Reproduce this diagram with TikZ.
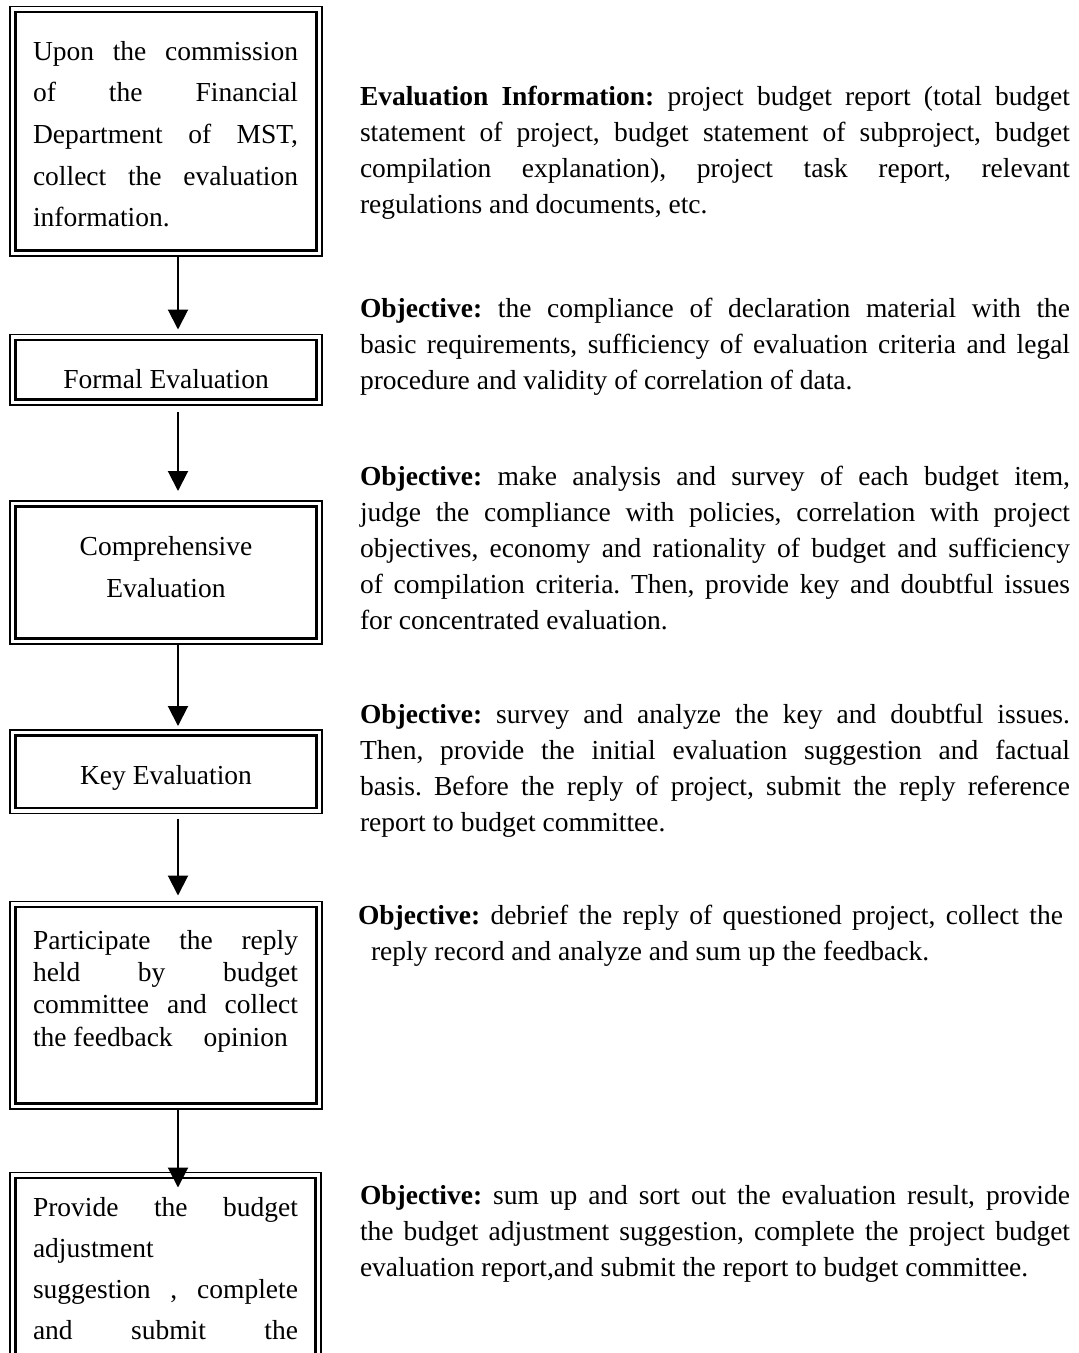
\documentclass[tikz,border=0pt]{standalone}
\usepackage{fontspec}
\setmainfont{Liberation Serif}
\usetikzlibrary{arrows.meta}
\frenchspacing
\newcommand\JL[1]{\noindent\makebox[\linewidth][s]{#1}\par}
\newcommand\LL[1]{\noindent #1\par}
\newcommand\blk[3]{\parbox[t]{#1}{\frenchspacing\fontsize{27.5pt}{#2}\selectfont #3}}
\tikzset{
  box/.style={draw, rectangle, line width=1.8pt, inner sep=0pt, outer sep=0pt},
  innerline/.style={line width=2.6pt},
  arr/.style={line width=2pt, -{Triangle[length=20pt,width=20pt]}},
  txt/.style={inner sep=0pt, outer sep=0pt, anchor=base west},
  ctxt/.style={inner sep=0pt, outer sep=0pt, anchor=base, font=\fontsize{27.5pt}{41.5pt}\selectfont},
}
\begin{document}
\begin{tikzpicture}[x=1pt,y=-1pt]
\useasboundingbox (0,0) rectangle (1079,1353);
\fill[white] (0,0) rectangle (1079,1353);
\clip (0,0) rectangle (1079,1353);

% boxes (outer line)
\node[box, minimum width=312pt, minimum height=249.5pt] (b1) at (166,131.25) {};
\node[box, minimum width=312pt, minimum height=70.5pt] (b2) at (166,369.75) {};
\node[box, minimum width=312pt, minimum height=143pt] (b3) at (166,572.5) {};
\node[box, minimum width=312pt, minimum height=83.5pt] (b4) at (166,771.75) {};
\node[box, minimum width=312pt, minimum height=207.5pt] (b5) at (166,1005.25) {};
\node[box, minimum width=311pt, minimum height=277.5pt] (b6) at (165.5,1311.25) {};

% inner lines
\foreach \n in {b1,b2,b3,b4,b5,b6}
  \draw[innerline] ([shift={(5.5,5.5)}]\n.north west) rectangle ([shift={(-5.5,-5.5)}]\n.south east);

% connectors
\draw[arr, shorten >=5pt] ([xshift=12pt]b1.south) -- ([xshift=12pt]b2.north);
\draw[arr, shorten <=7pt, shorten >=10pt] ([xshift=12pt]b2.south) -- ([xshift=12pt]b3.north);
\draw[arr, shorten >=4pt] ([xshift=12pt]b3.south) -- ([xshift=12pt]b4.north);
\draw[arr, shorten <=5pt, shorten >=6pt] ([xshift=12pt]b4.south) -- ([xshift=12pt]b5.north);
\draw[arr, shorten >=-15pt] ([xshift=12pt]b5.south) -- ([xshift=12.5pt]b6.north);

% box texts
\node[txt] (t1) at (33,60) {\blk{265pt}{41.7pt}{%
\JL{Upon the commission}
\JL{of the Financial}
\JL{Department of MST,}
\JL{collect the evaluation}
\LL{information.}}};
\node[ctxt] (t2) at (166,388) {Formal Evaluation};
\node[ctxt] (t3a) at (166,555) {Comprehensive};
\node[ctxt] (t3b) at (166,597) {Evaluation};
\node[ctxt] (t4) at (166,784) {Key Evaluation};
\node[txt] (t5) at (33,949) {\blk{265pt}{32.4pt}{%
\JL{Participate the reply}
\JL{held by budget}
\JL{committee and collect}
\LL{the feedback\hspace{31pt}opinion}}};
\node[txt] (t6) at (33,1216) {\blk{265pt}{41.3pt}{%
\JL{Provide the budget}
\LL{adjustment}
\JL{suggestion , complete}
\JL{and submit the}}};

% right column
\node[txt] (r1) at (360,105) {\blk{710pt}{36pt}{%
\JL{\textbf{Evaluation Information:} project budget report (total budget}
\JL{statement of project, budget statement of subproject, budget}
\JL{compilation explanation), project task report, relevant}
\LL{regulations and documents, etc.}}};
\node[txt] (r2) at (360,317) {\blk{710pt}{36pt}{%
\JL{\textbf{Objective:} the compliance of declaration material with the}
\JL{basic requirements, sufficiency of evaluation criteria and legal}
\LL{procedure and validity of correlation of data.}}};
\node[txt] (r3) at (360,485) {\blk{710pt}{36pt}{%
\JL{\textbf{Objective:} make analysis and survey of each budget item,}
\JL{judge the compliance with policies, correlation with project}
\JL{objectives, economy and rationality of budget and sufficiency}
\JL{of compilation criteria. Then, provide key and doubtful issues}
\LL{for concentrated evaluation.}}};
\node[txt] (r4) at (360,723) {\blk{710pt}{36pt}{%
\JL{\textbf{Objective:} survey and analyze the key and doubtful issues.}
\JL{Then, provide the initial evaluation suggestion and factual}
\JL{basis. Before the reply of project, submit the reply reference}
\LL{report to budget committee.}}};
\node[txt] (r5) at (358,924) {\blk{705pt}{36pt}{%
\JL{\textbf{Objective:} debrief the reply of questioned project, collect the}
\LL{\hspace{13pt}reply record and analyze and sum up the feedback.}}};
\node[txt] (r6) at (360,1204) {\blk{710pt}{36pt}{%
\JL{\textbf{Objective:} sum up and sort out the evaluation result, provide}
\JL{the budget adjustment suggestion, complete the project budget}
\LL{evaluation report,and submit the report to budget committee.}}};
\end{tikzpicture}
\end{document}
